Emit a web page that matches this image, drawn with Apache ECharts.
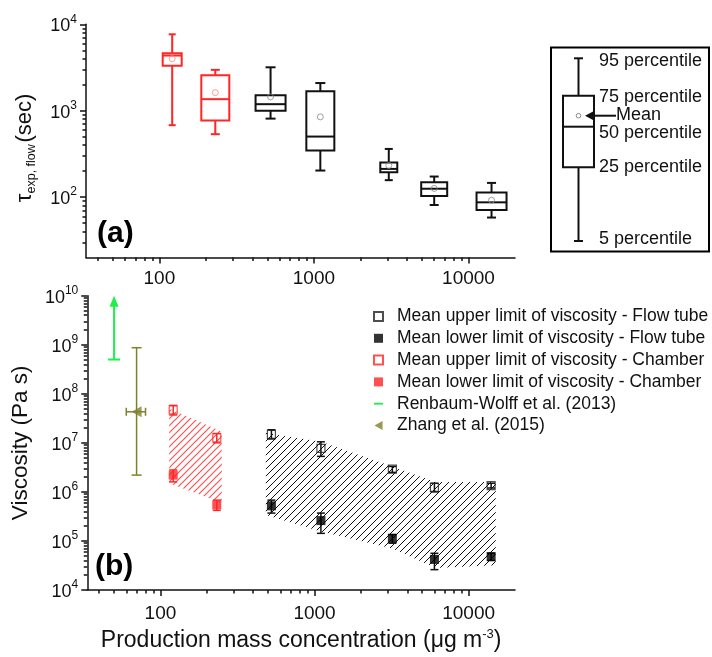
<!DOCTYPE html>
<html>
<head>
<meta charset="utf-8">
<script src="https://cdn.jsdelivr.net/npm/echarts@6/dist/echarts.min.js"></script>
<style>
  html, body { margin: 0; padding: 0; background: #fff; }
  #chart { width: 712px; height: 657px; }
</style>
</head>
<body>
<div id="chart"></div>
<script>
// ---- data ----
// x: production mass concentration (ug m-3), shared by both panels
const xMajor = [100, 1000, 10000];
const xMinor = [40, 50, 60, 70, 80, 90, 200, 300, 400, 500, 600, 700, 800, 900,
  2000, 3000, 4000, 5000, 6000, 7000, 8000, 9000];

// panel (a): tau_exp,flow box statistics (sec)
const tauMajor = [100, 1000, 10000];
const tauMinor = [30, 40, 50, 60, 70, 80, 90, 200, 300, 400, 500, 600, 700, 800, 900,
  2000, 3000, 4000, 5000, 6000, 7000, 8000, 9000];
const boxSetup = ['Chamber', 'Chamber', 'Flow tube', 'Flow tube', 'Flow tube', 'Flow tube', 'Flow tube'];
const boxConc = [121, 230, 524, 1100, 3050, 6000, 14100];
const boxP5 = [680, 535, 810, 203, 157, 81, 58];
const boxQ1 = [3320, 770, 1000, 346, 194, 103, 71];
const boxMedian = [4350, 1360, 1190, 502, 212, 125, 87];
const boxQ3 = [4630, 2570, 1510, 1680, 251, 149, 113];
const boxP95 = [7660, 2970, 3180, 2090, 361, 173, 146];
const boxMean = [4000, 1620, 1445, 848, 232, 126, 92];

// panel (b): viscosity (Pa s)
const viscMajor = [1e4, 1e5, 1e6, 1e7, 1e8, 1e9, 1e10];
const viscMinor = [1e4, 1e5, 1e6, 1e7, 1e8, 1e9].flatMap(d => [2, 3, 4, 5, 6, 7, 8, 9].map(m => m * d));

const ftConc = [525, 1100, 3200, 6000, 14000];
const ftUpper = [1.49e7, 7.7e6, 2.9e6, 1.24e6, 1.34e6];
const ftUpperLo = [1.2e7, 5.3e6, 2.5e6, 1.0e6, 1.2e6];
const ftUpperHi = [1.85e7, 1.05e7, 3.3e6, 1.5e6, 1.5e6];
const ftLower = [5.2e5, 2.6e5, 1.13e5, 4.2e4, 4.8e4];
const ftLowerLo = [3.7e5, 1.43e5, 9.0e4, 2.6e4, 4.0e4];
const ftLowerHi = [6.8e5, 3.7e5, 1.35e5, 5.6e4, 5.6e4];

const chConc = [121, 232];
const chUpper = [4.7e7, 1.27e7];
const chUpperLo = [3.7e7, 1.0e7];
const chUpperHi = [5.8e7, 1.55e7];
const chLower = [2.2e6, 5.4e5];
const chLowerLo = [1.6e6, 4.2e5];
const chLowerHi = [2.8e6, 6.8e5];

// hatched ranges between the limits
const chBandX = [114, 250];
const chBandTop = [5.0e7, 1.7e7];
const chBandBottom = [1.5e6, 6.0e5];
const ftBandX = [483, 1100, 3200, 6100, 15000];
const ftBandTop = [1.6e7, 1.05e7, 3.3e6, 1.6e6, 1.6e6];
const ftBandBottom = [3.4e5, 1.55e5, 7.0e4, 2.8e4, 3.2e4];

// literature values
const rwConc = 50;
const rwRange = [5e8, 1e10];
const zhConc = 70;
const zhVisc = 4.3e7;
const zhViscRange = [2.2e6, 8.7e8];
const zhConcRange = [60, 80];

// ---- styling ----
const FONT = '"Liberation Sans", Arial, Helvetica, sans-serif';
const RED = '#ff2626';
const BLACK = '#111';
const GREEN = '#1ef04a';
const OLIVE = '#80802c';
const X_MIN = 33.5, X_MAX = 20000;
const boxWidthPx = [19, 28, 30, 28, 17, 26, 30];
const boxCapPx = [7, 9, 10, 10, 8, 9, 9];

const chart = echarts.init(document.getElementById('chart'));

function hatch(color, size, width) {
  const c = document.createElement('canvas');
  c.width = c.height = size;
  const ctx = c.getContext('2d');
  ctx.strokeStyle = color;
  ctx.lineWidth = width;
  ctx.beginPath();
  ctx.moveTo(-1, size + 1); ctx.lineTo(size + 1, -1);
  ctx.moveTo(-1, 1); ctx.lineTo(1, -1);
  ctx.moveTo(size - 1, size + 1); ctx.lineTo(size + 1, size - 1);
  ctx.stroke();
  return c;
}

const powLabel = v => '{b|10}{e|' + Math.round(Math.log10(v)) + '}';
const powRich = {
  b: { fontSize: 18, lineHeight: 22, verticalAlign: 'bottom', fontFamily: FONT, color: BLACK },
  e: { fontSize: 12, lineHeight: 22, verticalAlign: 'top', fontFamily: FONT, color: BLACK }
};
const lineStyle = { color: BLACK, width: 1.5 };

function xAxes(grid, labelMargin, withName) {
  const base = { type: 'log', gridIndex: grid, min: X_MIN, max: X_MAX, position: 'bottom', splitLine: { show: false } };
  const major = Object.assign({}, base, {
    axisLine: { onZero: false, lineStyle },
    axisTick: { customValues: xMajor, length: 6, lineStyle },
    axisLabel: { customValues: xMajor, formatter: v => String(v), fontSize: 19, fontFamily: FONT, color: BLACK, margin: labelMargin }
  });
  if (withName) {
    Object.assign(major, {
      name: 'Production mass concentration (μg m{s|-3})',
      nameLocation: 'middle',
      nameGap: 38,
      nameTextStyle: {
        fontSize: 23, fontFamily: FONT, color: BLACK, lineHeight: 26,
        rich: { s: { fontSize: 13, lineHeight: 26, verticalAlign: 'top', fontFamily: FONT, color: BLACK } }
      }
    });
  }
  const minor = Object.assign({}, base, {
    axisLine: { show: false, onZero: false },
    axisTick: { customValues: xMinor, length: 3.5, lineStyle },
    axisLabel: { show: false }
  });
  return [major, minor];
}

function yAxes(grid, min, max, majors, minors, name, nameStyle) {
  const base = { type: 'log', gridIndex: grid, min, max, position: 'left', splitLine: { show: false } };
  return [
    Object.assign({}, base, {
      axisLine: { onZero: false, lineStyle },
      axisTick: { customValues: majors, length: 6, lineStyle },
      axisLabel: { customValues: majors, formatter: powLabel, rich: powRich, margin: 9 },
      name, nameLocation: 'middle', nameGap: 48, nameRotate: 90,
      nameTextStyle: Object.assign({ fontFamily: FONT, color: BLACK }, nameStyle)
    }),
    Object.assign({}, base, {
      axisLine: { show: false, onZero: false },
      axisTick: { customValues: minors, length: 3.5, lineStyle },
      axisLabel: { show: false }
    })
  ];
}

// box plot drawn through the axis scales
function renderBox(params, api) {
  const i = params.dataIndex;
  const x = api.value(0);
  const cx = api.coord([x, api.value(3)])[0];
  const y = k => api.coord([x, api.value(k)])[1];
  const p5 = y(1), q1 = y(2), med = y(3), q3 = y(4), p95 = y(5);
  const hw = boxWidthPx[i] / 2, cw = boxCapPx[i] / 2;
  const color = boxSetup[i] === 'Chamber' ? RED : BLACK;
  const st = { stroke: color, lineWidth: 2, fill: null };
  const ln = (x1, y1, x2, y2) => ({ type: 'line', shape: { x1, y1, x2, y2 }, style: st });
  return {
    type: 'group',
    children: [
      ln(cx - cw, p5, cx + cw, p5),
      ln(cx, p5, cx, q1),
      { type: 'rect', shape: { x: cx - hw, y: q3, width: hw * 2, height: q1 - q3 }, style: st },
      ln(cx - hw, med, cx + hw, med),
      ln(cx, q3, cx, p95),
      ln(cx - cw, p95, cx + cw, p95)
    ]
  };
}

function renderErr(color, cap) {
  return function (params, api) {
    const x = api.value(0);
    const lo = api.coord([x, api.value(1)]);
    const hi = api.coord([x, api.value(2)]);
    const st = { stroke: color, lineWidth: 1.5 };
    return {
      type: 'group',
      children: [
        { type: 'line', shape: { x1: lo[0], y1: lo[1], x2: hi[0], y2: hi[1] }, style: st },
        { type: 'line', shape: { x1: lo[0] - cap, y1: lo[1], x2: lo[0] + cap, y2: lo[1] }, style: st },
        { type: 'line', shape: { x1: hi[0] - cap, y1: hi[1], x2: hi[0] + cap, y2: hi[1] }, style: st }
      ]
    };
  };
}

function renderBand(xs, top, bottom, fill) {
  return function (params, api) {
    if (params.dataIndex !== 0) return null;
    const upper = xs.map((x, i) => api.coord([x, top[i]]));
    const lower = xs.map((x, i) => api.coord([x, bottom[i]])).reverse();
    return { type: 'polygon', shape: { points: upper.concat(lower) }, style: { fill, stroke: null } };
  };
}

const zip = (a, b, c) => a.map((v, i) => c ? [v, b[i], c[i]] : [v, b[i]]);

const keyText = (text, x, y) => ({
  type: 'text', x, y, style: { text, font: '18px ' + FONT, fill: BLACK, verticalAlign: 'middle' }
});

const option = {
  animation: false,
  backgroundColor: '#fff',
  grid: [
    { left: 86, right: 197, top: 24.3, bottom: 399.5 },
    { left: 86, right: 197, top: 295.7, bottom: 67 }
  ],
  xAxis: xAxes(0, 12, false).concat(xAxes(1, 14, true)),
  yAxis: yAxes(0, 20, 10000, tauMajor, tauMinor, '{t|τ}{s|exp, flow}{g| }{t|(sec)}', {
    lineHeight: 26, padding: [0, 14, 0, 0],
    rich: {
      t: { fontSize: 22, lineHeight: 26, verticalAlign: 'middle', fontFamily: FONT, color: BLACK },
      s: { fontSize: 12.5, lineHeight: 26, verticalAlign: 'bottom', fontFamily: FONT, color: BLACK },
      g: { fontSize: 6, lineHeight: 26, fontFamily: FONT }
    }
  }).concat(yAxes(1, 1e4, 1e10, viscMajor, viscMinor, 'Viscosity (Pa s)', { fontSize: 22.5, lineHeight: 26 })),
  legend: {
    orient: 'vertical', left: 373, top: 307.5, padding: 0,
    itemWidth: 9, itemHeight: 9, itemGap: 3.8, selectedMode: false,
    textStyle: { fontFamily: FONT, fontSize: 17.5, color: '#111', lineHeight: 17, padding: [0, 0, 0, 9] },
    data: [
      { name: 'Mean upper limit of viscosity - Flow tube', icon: 'rect' },
      { name: 'Mean lower limit of viscosity - Flow tube', icon: 'rect' },
      { name: 'Mean upper limit of viscosity - Chamber', icon: 'rect' },
      { name: 'Mean lower limit of viscosity - Chamber', icon: 'rect' },
      { name: 'Renbaum-Wolff et al. (2013)', icon: 'path://M0,0M0,4L10,4L10,6L0,6ZM10,10' },
      { name: 'Zhang et al. (2015)', icon: 'path://M0,5L9,0L9,10Z' }
    ]
  },
  series: [
    // (a) boxes
    {
      type: 'custom', name: 'tau boxes', xAxisIndex: 0, yAxisIndex: 0,
      renderItem: renderBox,
      data: boxConc.map((c, i) => [c, boxP5[i], boxQ1[i], boxMedian[i], boxQ3[i], boxP95[i]])
    },
    {
      type: 'scatter', name: 'tau mean', xAxisIndex: 0, yAxisIndex: 0,
      symbol: 'circle', symbolSize: 6,
      data: boxConc.map((c, i) => ({
        value: [c, boxMean[i]],
        itemStyle: { color: 'rgba(0,0,0,0)', borderColor: boxSetup[i] === 'Chamber' ? '#ff8080' : '#8a8a8a', borderWidth: 1 }
      }))
    },
    // (b) hatched ranges
    {
      type: 'custom', name: 'chamber range', xAxisIndex: 2, yAxisIndex: 2,
      renderItem: renderBand(chBandX, chBandTop, chBandBottom, { image: hatch('#ff5050', 7, 1.2), repeat: 'repeat' }),
      data: zip(chBandX, chBandTop, chBandBottom)
    },
    {
      type: 'custom', name: 'flow tube range', xAxisIndex: 2, yAxisIndex: 2,
      renderItem: renderBand(ftBandX, ftBandTop, ftBandBottom, { image: hatch('#111', 7, 1), repeat: 'repeat' }),
      data: zip(ftBandX, ftBandTop, ftBandBottom)
    },
    // error bars
    { type: 'custom', name: 'ft upper err', xAxisIndex: 2, yAxisIndex: 2, renderItem: renderErr(BLACK, 4), data: zip(ftConc, ftUpperLo, ftUpperHi) },
    { type: 'custom', name: 'ft lower err', xAxisIndex: 2, yAxisIndex: 2, renderItem: renderErr(BLACK, 4), data: zip(ftConc, ftLowerLo, ftLowerHi) },
    { type: 'custom', name: 'ch upper err', xAxisIndex: 2, yAxisIndex: 2, renderItem: renderErr(RED, 4), data: zip(chConc, chUpperLo, chUpperHi) },
    { type: 'custom', name: 'ch lower err', xAxisIndex: 2, yAxisIndex: 2, renderItem: renderErr(RED, 4), data: zip(chConc, chLowerLo, chLowerHi) },
    // markers
    {
      type: 'scatter', name: 'Mean upper limit of viscosity - Flow tube', xAxisIndex: 2, yAxisIndex: 2,
      symbol: 'rect', symbolSize: 8,
      itemStyle: { color: 'rgba(0,0,0,0)', borderColor: '#222', borderWidth: 1.2 },
      data: zip(ftConc, ftUpper)
    },
    {
      type: 'scatter', name: 'Mean lower limit of viscosity - Flow tube', xAxisIndex: 2, yAxisIndex: 2,
      symbol: 'rect', symbolSize: 9,
      itemStyle: { color: '#000' },
      data: zip(ftConc, ftLower)
    },
    {
      type: 'scatter', name: 'Mean upper limit of viscosity - Chamber', xAxisIndex: 2, yAxisIndex: 2,
      symbol: 'rect', symbolSize: 8,
      itemStyle: { color: 'rgba(0,0,0,0)', borderColor: RED, borderWidth: 1.2 },
      data: zip(chConc, chUpper)
    },
    {
      type: 'scatter', name: 'Mean lower limit of viscosity - Chamber', xAxisIndex: 2, yAxisIndex: 2,
      symbol: 'rect', symbolSize: 9,
      itemStyle: { color: RED },
      data: zip(chConc, chLower)
    },
    {
      type: 'custom', name: 'Renbaum-Wolff et al. (2013)', xAxisIndex: 2, yAxisIndex: 2,
      itemStyle: { color: GREEN },
      renderItem: function (params, api) {
        const lo = api.coord([api.value(0), api.value(1)]);
        const hi = api.coord([api.value(0), api.value(2)]);
        const st = { stroke: GREEN, lineWidth: 2 };
        return {
          type: 'group',
          children: [
            { type: 'line', shape: { x1: lo[0], y1: lo[1], x2: hi[0], y2: hi[1] + 8 }, style: st },
            { type: 'line', shape: { x1: lo[0] - 6, y1: lo[1], x2: lo[0] + 6, y2: lo[1] }, style: st },
            { type: 'polygon', shape: { points: [[hi[0], hi[1]], [hi[0] - 4.5, hi[1] + 11], [hi[0] + 4.5, hi[1] + 11]] }, style: { fill: GREEN } }
          ]
        };
      },
      data: [[rwConc, rwRange[0], rwRange[1]]]
    },
    {
      type: 'custom', name: 'zhang err', xAxisIndex: 2, yAxisIndex: 2,
      renderItem: function (params, api) {
        const c = api.coord([api.value(0), api.value(1)]);
        const yl = api.coord([api.value(0), api.value(2)])[1];
        const yh = api.coord([api.value(0), api.value(3)])[1];
        const xl = api.coord([api.value(4), api.value(1)])[0];
        const xh = api.coord([api.value(5), api.value(1)])[0];
        const st = { stroke: OLIVE, lineWidth: 1.5 };
        const ln = (x1, y1, x2, y2) => ({ type: 'line', shape: { x1, y1, x2, y2 }, style: st });
        return {
          type: 'group',
          children: [
            ln(c[0], yl, c[0], yh), ln(c[0] - 5, yl, c[0] + 5, yl), ln(c[0] - 5, yh, c[0] + 5, yh),
            ln(xl, c[1], xh, c[1]), ln(xl, c[1] - 4, xl, c[1] + 4), ln(xh, c[1] - 4, xh, c[1] + 4)
          ]
        };
      },
      data: [[zhConc, zhVisc, zhViscRange[0], zhViscRange[1], zhConcRange[0], zhConcRange[1]]]
    },
    {
      type: 'scatter', name: 'Zhang et al. (2015)', xAxisIndex: 2, yAxisIndex: 2,
      symbol: 'triangle', symbolRotate: 90, symbolSize: [11, 10],
      itemStyle: { color: OLIVE },
      data: [[zhConc, zhVisc]]
    }
  ],
  graphic: [
    { type: 'text', x: 97, y: 234, style: { text: '(a)', font: 'bold 30px ' + FONT, fill: '#000', verticalAlign: 'middle' } },
    { type: 'text', x: 95, y: 567, style: { text: '(b)', font: 'bold 30px ' + FONT, fill: '#000', verticalAlign: 'middle' } },
    // key for the box plots
    { type: 'rect', shape: { x: 551, y: 47.5, width: 158, height: 204 }, style: { fill: null, stroke: '#000', lineWidth: 2 } },
    { type: 'line', shape: { x1: 574, y1: 58.3, x2: 583, y2: 58.3 }, style: { stroke: BLACK, lineWidth: 2 } },
    { type: 'line', shape: { x1: 578.5, y1: 58.3, x2: 578.5, y2: 95.7 }, style: { stroke: BLACK, lineWidth: 2 } },
    { type: 'rect', shape: { x: 563, y: 95.7, width: 31, height: 71.6 }, style: { fill: null, stroke: BLACK, lineWidth: 2 } },
    { type: 'line', shape: { x1: 563, y1: 126.7, x2: 594, y2: 126.7 }, style: { stroke: BLACK, lineWidth: 2 } },
    { type: 'line', shape: { x1: 578.5, y1: 167.3, x2: 578.5, y2: 241 }, style: { stroke: BLACK, lineWidth: 2 } },
    { type: 'line', shape: { x1: 574, y1: 241, x2: 583, y2: 241 }, style: { stroke: BLACK, lineWidth: 2 } },
    { type: 'circle', shape: { cx: 578.5, cy: 115.7, r: 2.3 }, style: { fill: null, stroke: '#8a8a8a', lineWidth: 1 } },
    { type: 'line', shape: { x1: 590, y1: 115.7, x2: 616, y2: 115.7 }, style: { stroke: BLACK, lineWidth: 2 } },
    { type: 'polygon', shape: { points: [[585, 115.7], [593, 111.5], [593, 119.9]] }, style: { fill: BLACK } },
    keyText('95 percentile', 599, 61),
    keyText('75 percentile', 599, 97),
    keyText('Mean', 616, 115.5),
    keyText('50 percentile', 599, 132.7),
    keyText('25 percentile', 599, 167.3),
    keyText('5 percentile', 599, 239.3)
  ]
};

chart.setOption(option);
window.addEventListener('resize', () => chart.resize());
</script>
</body>
</html>
